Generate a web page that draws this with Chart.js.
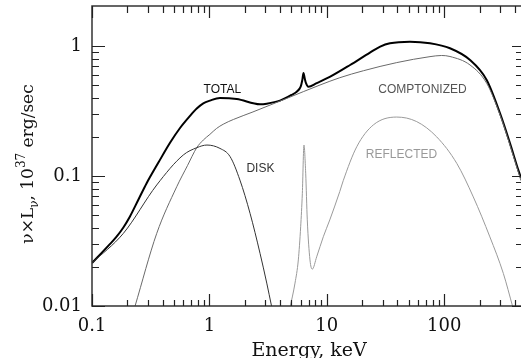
<!DOCTYPE html>
<html>
<head>
<meta charset="utf-8">
<script src="https://cdn.jsdelivr.net/npm/chart.js@4.4.1/dist/chart.umd.min.js"></script>
<style>
  html, body { margin: 0; padding: 0; background: #fff; }
  canvas { display: block; }
</style>
</head>
<body>
<canvas id="spectrum" width="521" height="358"></canvas>
<script>
// Spectral components, energy in keV and nu*L_nu in 1e37 erg/sec
const totalE = [0.1, 0.14, 0.16, 0.185, 0.21, 0.25, 0.292, 0.37, 0.462, 0.56, 0.684, 0.78, 0.887, 1.01, 1.23, 1.71, 2.70, 3.08, 3.99, 5.0, 5.54, 5.99, 6.18, 6.33, 6.48, 6.65, 6.96, 8.2, 10.6, 15.8, 23.3, 28.5, 34.5, 51.1, 75.7, 112, 166, 230, 299, 363, 428, 451];
const totalL = [0.0214, 0.0295, 0.0337, 0.0402, 0.0486, 0.0665, 0.088, 0.128, 0.180, 0.233, 0.29, 0.33, 0.362, 0.38, 0.398, 0.391, 0.356, 0.360, 0.380, 0.420, 0.445, 0.486, 0.545, 0.620, 0.565, 0.517, 0.486, 0.518, 0.578, 0.714, 0.89, 0.99, 1.05, 1.08, 1.05, 0.96, 0.78, 0.548, 0.303, 0.179, 0.111, 0.097];

const comptE = [0.232, 0.356, 0.527, 0.65, 0.78, 0.887, 1.01, 1.15, 1.31, 1.6, 2.35, 4.55, 8.75, 12.9, 20.5, 39.4, 75.7, 95, 112, 166, 230, 299, 363, 428, 451];
const comptL = [0.0099, 0.0362, 0.0827, 0.12, 0.165, 0.189, 0.209, 0.232, 0.250, 0.272, 0.311, 0.395, 0.501, 0.570, 0.645, 0.745, 0.828, 0.845, 0.830, 0.714, 0.517, 0.295, 0.173, 0.107, 0.092];

const diskE = [0.1, 0.185, 0.356, 0.599, 0.78, 0.954, 1.23, 1.50, 1.82, 2.22, 2.70, 3.08, 3.39];
const diskL = [0.0214, 0.0362, 0.0853, 0.145, 0.165, 0.173, 0.163, 0.141, 0.093, 0.0516, 0.0254, 0.0150, 0.0099];

const reflE = [4.86, 5.36, 5.72, 5.99, 6.19, 6.39, 6.61, 6.82, 7.19, 7.52, 8.20, 9.34, 10.6, 12.9, 13.8, 18.0, 24.9, 39.4, 58.3, 86.3, 128, 177, 245, 319, 383];
const reflL = [0.0097, 0.015, 0.0226, 0.0407, 0.0736, 0.173, 0.105, 0.046, 0.0226, 0.0192, 0.0239, 0.0341, 0.0459, 0.076, 0.092, 0.168, 0.247, 0.284, 0.262, 0.200, 0.125, 0.069, 0.034, 0.0178, 0.0099];

// Axis ticks
const xMajorTicks = [0.1, 1, 10, 100];
const xMinorTicks = [0.2, 0.3, 0.4, 0.5, 0.6, 0.7, 0.8, 0.9, 2, 3, 4, 5, 6, 7, 8, 9, 20, 30, 40, 50, 60, 70, 80, 90, 200, 300, 400];
const yMajorTicks = [0.01, 0.1, 1];
const yMinorTicks = [0.02, 0.03, 0.04, 0.05, 0.06, 0.07, 0.08, 0.09, 0.2, 0.3, 0.4, 0.5, 0.6, 0.7, 0.8, 0.9];

// Curve annotations (placed in data coordinates)
const labelText  = ['TOTAL', 'COMPTONIZED', 'DISK', 'REFLECTED'];
const labelE     = [1.29, 65.3, 2.72, 43.3];
const labelL     = [0.459, 0.459, 0.113, 0.145];
const labelColor = ['#111', '#555', '#333', '#999'];

const toPoints = (xs, ys) => xs.map((x, i) => ({ x: x, y: ys[i] }));
const near = (v, list) => list.some(t => Math.abs(v / t - 1) < 1e-6);
const serif = '"DejaVu Serif", "Liberation Serif", serif';

const framePlugin = {
  id: 'frameAndText',
  afterDatasetsDraw(chart) {
    const { ctx, chartArea: a, scales: { x, y } } = chart;
    ctx.save();
    // frame
    ctx.strokeStyle = '#333';
    ctx.lineWidth = 1.5;
    ctx.beginPath();
    ctx.moveTo(a.right, a.top); ctx.lineTo(a.left, a.top);
    ctx.lineTo(a.left, a.bottom); ctx.lineTo(a.right, a.bottom);
    ctx.stroke();

    // inward tick marks
    ctx.lineWidth = 1.2;
    ctx.strokeStyle = '#222';
    ctx.beginPath();
    const xt = (v, lb, lt) => {
      const px = Math.round(x.getPixelForValue(v)) + 0.5;
      ctx.moveTo(px, a.bottom); ctx.lineTo(px, a.bottom - lb);
      ctx.moveTo(px, a.top); ctx.lineTo(px, a.top + lt);
    };
    xMajorTicks.forEach(v => xt(v, 12, 12));
    xMinorTicks.forEach(v => xt(v, 6, 7));
    const yt = (v, ll, lr) => {
      const py = Math.round(y.getPixelForValue(v)) + 0.5;
      ctx.moveTo(a.left, py); ctx.lineTo(a.left + ll, py);
      if (v <= 1) { ctx.moveTo(a.right, py); ctx.lineTo(a.right - lr, py); }
    };
    yMajorTicks.forEach(v => yt(v, 13, 9));
    yMinorTicks.forEach(v => yt(v, 7, 5));
    ctx.stroke();

    // curve labels
    ctx.font = '12px "Liberation Sans", Arial, sans-serif';
    ctx.textAlign = 'center';
    ctx.textBaseline = 'middle';
    labelText.forEach((t, i) => {
      ctx.fillStyle = labelColor[i];
      ctx.fillText(t, x.getPixelForValue(labelE[i]), y.getPixelForValue(labelL[i]));
    });

    // x axis title, centred on the full 0.1-500 keV span
    ctx.fillStyle = '#111';
    ctx.font = '19px ' + serif;
    ctx.textBaseline = 'alphabetic';
    const xc = (a.left + x.getPixelForValue(500)) / 2;
    ctx.fillText('Energy, keV', xc, 356);

    // y axis title with subscript and superscript
    ctx.translate(33, (a.top + a.bottom) / 2 + 8);
    ctx.rotate(-Math.PI / 2);
    const big = '17px ' + serif, small = '12px ' + serif;
    const parts = [
      { t: 'ν×L', f: big, dy: 0 },
      { t: 'ν', f: small, dy: 5 },
      { t: ', 10', f: big, dy: 0 },
      { t: '37', f: small, dy: -8 },
      { t: ' erg/sec', f: big, dy: 0 }
    ];
    let w = 0;
    parts.forEach(p => { ctx.font = p.f; p.w = ctx.measureText(p.t).width; w += p.w; });
    let cx = -w / 2;
    ctx.textAlign = 'left';
    parts.forEach(p => { ctx.font = p.f; ctx.fillText(p.t, cx, p.dy); cx += p.w; });
    ctx.restore();
  }
};

new Chart(document.getElementById('spectrum'), {
  type: 'scatter',
  data: {
    datasets: [
      { label: 'REFLECTED', data: toPoints(reflE, reflL), borderColor: '#9a9a9a', borderWidth: 1 },
      { label: 'DISK', data: toPoints(diskE, diskL), borderColor: '#333', borderWidth: 1 },
      { label: 'COMPTONIZED', data: toPoints(comptE, comptL), borderColor: '#6a6a6a', borderWidth: 1 },
      { label: 'TOTAL', data: toPoints(totalE, totalL), borderColor: '#000', borderWidth: 2 }
    ].map(d => Object.assign(d, { showLine: true, pointRadius: 0, fill: false, cubicInterpolationMode: 'monotone' }))
  },
  options: {
    responsive: false,
    animation: false,
    devicePixelRatio: 1,
    layout: { padding: { top: 6, right: 0, left: 0, bottom: 0 } },
    plugins: { legend: { display: false }, tooltip: { enabled: false } },
    scales: {
      x: {
        type: 'logarithmic', min: 0.1, max: 451,
        grid: { display: false, drawTicks: false }, border: { display: false },
        ticks: {
          autoSkip: false, maxRotation: 0, padding: 10, color: '#111',
          font: { family: serif, size: 18 },
          callback: v => near(v, xMajorTicks) ? String(v) : ''
        },
        afterFit: s => { s.height = 52; s.paddingLeft = 0; s.paddingRight = 0; }
      },
      y: {
        type: 'logarithmic', min: 0.01, max: 2.03,
        grid: { display: false, drawTicks: false }, border: { display: false },
        ticks: {
          autoSkip: false, padding: 10, color: '#111',
          font: { family: serif, size: 18 },
          callback: v => near(v, yMajorTicks) ? String(v) : ''
        },
        afterFit: s => { s.width = 92; s.paddingTop = 0; s.paddingBottom = 0; }
      }
    }
  },
  plugins: [framePlugin]
});
</script>
</body>
</html>
